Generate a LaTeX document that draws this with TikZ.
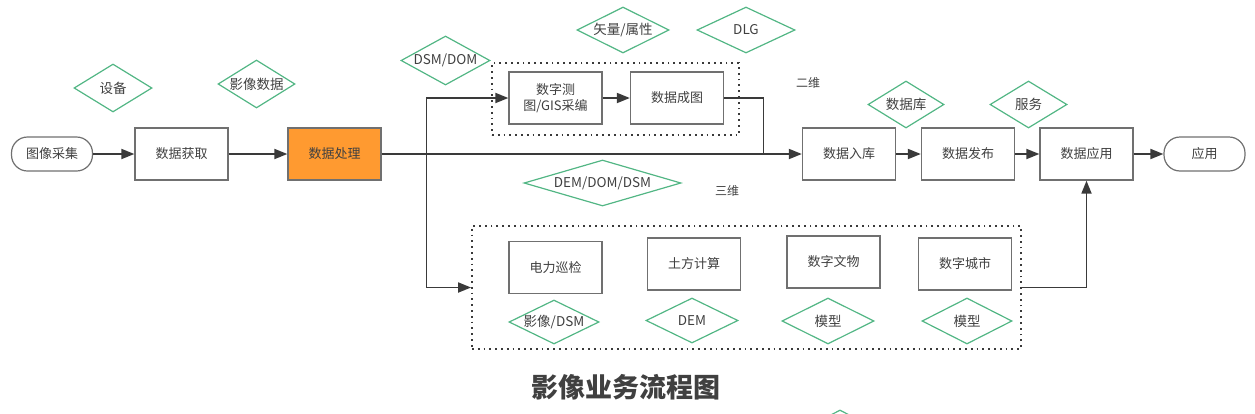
\documentclass[tikz,border=0pt]{standalone}
\usepackage{fontspec}
\setmainfont{Noto Sans CJK SC}
\usetikzlibrary{shapes.geometric,arrows.meta}
\definecolor{txt}{HTML}{404040}
\definecolor{boxline}{HTML}{707070}
\definecolor{conn}{HTML}{3A3A3A}
\definecolor{dgreen}{RGB}{82,182,132}
\definecolor{orng}{RGB}{255,154,48}
\tikzset{
  procbox/.style={draw=boxline, line width=1.3pt, fill=white, minimum width=93pt, minimum height=52pt, inner sep=0pt, text=txt, font=\fontsize{13}{16}\selectfont, align=center},
  termbox/.style={draw=boxline, line width=1.2pt, rounded corners=16pt, minimum width=81pt, minimum height=34pt, inner sep=0pt, text=txt, font=\fontsize{13}{16}\selectfont},
  diashape/.style={draw=dgreen, line width=1.2pt, diamond, inner sep=0pt},
  diatext/.style={text=txt, font=\fontsize{13.5}{16}\selectfont, inner sep=0pt},
  dotbox/.style={draw=conn, line width=1.8pt, dash pattern=on 1.8pt off 4pt, inner sep=0pt},
  conn/.style={draw=conn, line width=1.8pt},
  arr/.style={conn, -{Triangle[length=13pt,width=10pt]}},
  plain/.style={text=txt, font=\fontsize{12}{14}\selectfont, inner sep=0pt}
}
\newcommand\mydia[5]{%
  \node[diashape, minimum width=#3pt, minimum height=#4pt] (#1) at (#2) {};
  \node[diatext] (#1-t) at (#1.center) {#5};}
\begin{document}
\begin{tikzpicture}[x=1pt,y=-1pt]
\useasboundingbox (0,0) rectangle (1255,413);
% dotted group boxes
\node[dotbox, minimum width=247pt, minimum height=72pt] (grp2d) at (615.5,99) {};
\node[dotbox, minimum width=549pt, minimum height=123pt] (grp3d) at (746.5,287.5) {};
% main chain
\node[termbox] (cai) at (52,154) {图像采集};
\node[procbox] (huoqu) at (181.5,154) {数据获取};
\node[procbox, fill=orng] (chuli) at (334.5,154) {数据处理};
\node[procbox] (cetu) at (555.5,98) {数字测\\图/GIS采编};
\node[procbox] (chengtu) at (677,98) {数据成图};
\node[procbox] (ruku) at (849,154) {数据入库};
\node[procbox] (fabu) at (968,154) {数据发布};
\node[procbox] (yingyong) at (1086.5,154) {数据应用};
\node[termbox] (app) at (1204.5,154) {应用};
% 3D applications
\node[procbox] (dianli) at (555.5,267.5) {电力巡检};
\node[procbox] (tufang) at (694,264) {土方计算};
\node[procbox] (wenwu) at (833.5,262) {数字文物};
\node[procbox] (chengshi) at (965,264) {数字城市};
% diamonds
\mydia{dshebei}{113,88}{78}{48}{设备}
\mydia{dyingxiang}{256.5,84}{77}{48}{影像数据}
\mydia{ddsmdom}{445.5,60.5}{89}{49}{DSM/DOM}
\mydia{dshiliang}{623,30}{92}{46}{矢量/属性}
\mydia{ddlg}{746,30}{98}{46}{DLG}
\mydia{dshujuku}{906,104.5}{76}{47}{数据库}
\mydia{dfuwu}{1028.5,104.5}{77}{47}{服务}
\mydia{ddemdomdsm}{602.5,183}{157}{46}{DEM/DOM/DSM}
\mydia{dyxdsm}{554,322}{90}{44}{影像/DSM}
\mydia{ddem}{692,320.5}{92}{45}{DEM}
\mydia{dmx1}{828,321}{92}{46}{模型}
\mydia{dmx2}{967,321}{90}{46}{模型}
\node[diashape, minimum width=90pt, minimum height=46pt] (dbottom) at (840,433) {};
% plain labels
\node[plain] (erwei) at (808,83) {二维};
\node[plain] (sanwei) at (727,191) {三维};
\node[text=txt, font=\bfseries\fontsize{27}{30}\selectfont, inner sep=0pt] (title) at (626,387) {影像业务流程图};
% connectors
\coordinate (j) at (426.5,154);
\coordinate (k) at (763.5,154);
\draw[arr] (cai.east) -- (huoqu.west);
\draw[arr] (huoqu.east) -- (chuli.west);
\draw[arr] (chuli.east) -- (ruku.west);
\draw[arr] (j) |- (cetu.west);
\draw[arr] (j) |- (grp3d.west);
\draw[arr] (cetu.east) -- (chengtu.west);
\draw[conn] (chengtu.east) -| (k);
\draw[arr] (ruku.east) -- (fabu.west);
\draw[arr] (fabu.east) -- (yingyong.west);
\draw[arr] (yingyong.east) -- (app.west);
\draw[arr] (grp3d.east) -| (yingyong.south);
\end{tikzpicture}
\end{document}
